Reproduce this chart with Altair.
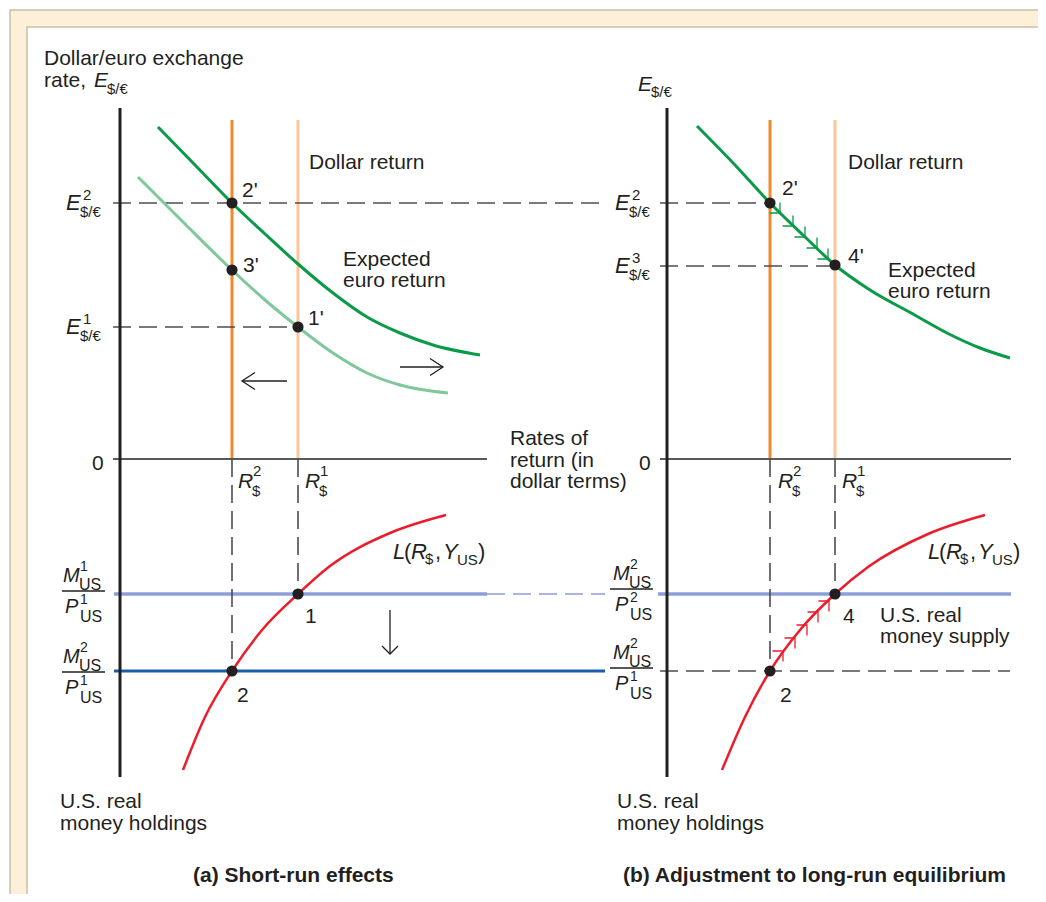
import altair as alt
import pandas as pd

FONT = "Liberation Sans"
INK = "#231f20"

# ---------------- diagram values (schematic units) ----------------
# vertical axes (panel a, panel b) and horizontal zero line
axis_x = [120, 667]
axis_top, axis_bottom = 108, 777
zero_y = 459
haxis_left = [113, 660]
haxis_right = [487, 1011]

# dollar interest rates R2 (new) and R1 (old) in each panel
rate_R2 = [232, 770]
rate_R1 = [298, 835]
rate_top = 120

# exchange-rate levels
E2_level, E1_level, E3_level = 203, 327, 266
# real money levels
M1P1_level, M2P1_level = 594, 671

# expected euro return curves
euro_new_a_x = [158, 195, 232, 265, 298, 333, 367, 400, 433, 480]
euro_new_a_y = [127, 165, 203, 234, 264, 293, 317, 333, 345, 355]
euro_old_a_x = [138, 185, 232, 265, 298, 333, 367, 400, 448]
euro_old_a_y = [177, 224, 270, 300, 327, 353, 373, 385, 393]
euro_b_x = [697, 735, 770, 803, 835, 870, 913, 947, 980, 1010]
euro_b_y = [126, 165, 203, 235, 265, 290, 314, 333, 348, 358]

# money demand curves L(R, Y)
demand_a_x = [183, 205, 232, 262, 298, 330, 390, 446]
demand_a_y = [770, 717, 671, 630, 594, 566, 533, 515]
demand_b_x = [722, 745, 770, 800, 835, 868, 928, 985]
demand_b_y = [770, 717, 671, 630, 594, 567, 534, 515]

# equilibrium points
dot_x = [232, 232, 298, 232, 298, 770, 835, 770, 835]
dot_y = [203, 270, 327, 671, 594, 203, 265, 671, 594]

# adjustment path markers
green_chev_x = [780, 793, 805, 817, 828]
green_chev_y = [213, 226, 237, 248, 259]
red_chev_x = [783, 795, 807, 818, 829]
red_chev_y = [651, 638, 625, 612, 601]

# ---------------- scales ----------------
W, H = 1030, 886
xs = alt.Scale(domain=[8, 1038], nice=False, zero=False)
ys = alt.Scale(domain=[8, 894], nice=False, zero=False, reverse=True)


def X(f="x"):
    return alt.X(f, type="quantitative", scale=xs, axis=None)


def Y(f="y"):
    return alt.Y(f, type="quantitative", scale=ys, axis=None)


def segs(rows, color, width, dash=None):
    df = pd.DataFrame(rows, columns=["x", "y", "x2", "y2"])
    kw = dict(color=color, strokeWidth=width)
    if dash:
        kw["strokeDash"] = dash
    return alt.Chart(df).mark_rule(**kw).encode(
        x=X("x"), y=Y("y"), x2=alt.X2("x2"), y2=alt.Y2("y2"))


def curve(xv, yv, color, width):
    df = pd.DataFrame({"x": xv, "y": yv})
    return alt.Chart(df).mark_line(color=color, strokeWidth=width,
                                   interpolate="monotone").encode(
        x=X("x"), y=Y("y"), order="x:Q")


layers = []

# frame
frame_outer = pd.DataFrame({"x": [10], "y": [10], "x2": [1046], "y2": [902]})
frame_inner = pd.DataFrame({"x": [27], "y": [27], "x2": [1046], "y2": [902]})
layers.append(alt.Chart(frame_outer).mark_rect(fill="#fdf0d8", stroke="#c9bea9", strokeWidth=1.5).encode(
    x=X("x"), y=Y("y"), x2=alt.X2("x2"), y2=alt.Y2("y2")))
layers.append(alt.Chart(frame_inner).mark_rect(fill="#ffffff", stroke="#c9bea9", strokeWidth=1.5).encode(
    x=X("x"), y=Y("y"), x2=alt.X2("x2"), y2=alt.Y2("y2")))

# dollar return lines
layers.append(segs([(r, rate_top, r, zero_y) for r in rate_R1], "#fbc79a", 3))
layers.append(segs([(r, rate_top, r, zero_y) for r in rate_R2], "#f28a2c", 3))

# horizontal zero axes
layers.append(segs([(haxis_left[i], zero_y, haxis_right[i], zero_y) for i in range(2)], "#58595b", 2))

# money supply lines
layers.append(segs([(114, M1P1_level, 487, M1P1_level), (658, M1P1_level, 1011, M1P1_level)], "#8c9fd8", 3.5))
layers.append(segs([(487, M1P1_level, 605, M1P1_level)], "#8c9fd8", 1.5, [18, 8]))
layers.append(segs([(114, M2P1_level, 605, M2P1_level)], "#1b5cab", 3))

# dashed guide lines
layers.append(segs([
    (113, E2_level, 605, E2_level),
    (113, E1_level, rate_R1[0], E1_level),
    (660, E2_level, rate_R2[1], E2_level),
    (660, E3_level, rate_R1[1], E3_level),
    (rate_R2[0], zero_y, rate_R2[0], M2P1_level),
    (rate_R1[0], zero_y, rate_R1[0], M1P1_level),
    (rate_R2[1], zero_y, rate_R2[1], M2P1_level),
    (rate_R1[1], zero_y, rate_R1[1], M1P1_level),
    (660, M2P1_level, 1010, M2P1_level),
], "#4d4d4f", 1.6, [18, 8]))

# curves
layers.append(curve(euro_old_a_x, euro_old_a_y, "#7fc89c", 3))
layers.append(curve(euro_new_a_x, euro_new_a_y, "#0a9a48", 3))
layers.append(curve(euro_b_x, euro_b_y, "#0a9a48", 3))
layers.append(curve(demand_a_x, demand_a_y, "#ec1c2a", 2.5))
layers.append(curve(demand_b_x, demand_b_y, "#ec1c2a", 2.5))

# vertical axes
layers.append(segs([(ax, axis_top, ax, axis_bottom) for ax in axis_x], INK, 3))

# fraction bars and arrow shafts
layers.append(segs([
    (62, 591, 105, 591), (62, 672, 105, 672),
    (610, 589, 653, 589), (610, 668, 653, 668),
], INK, 1.3))
layers.append(segs([(287, 381, 242, 381), (400, 367, 443, 367), (390, 610, 390, 654)], INK, 1.3))

# arrowheads
heads = pd.DataFrame({"x": [242, 443], "y": [381, 367], "angle": [180, 0]})
layers.append(alt.Chart(heads).mark_point(shape="M-1,-0.65L0,0L-1,0.65", filled=False, size=676,
                                          color=INK, strokeWidth=1.3, opacity=1).encode(
    x=X("x"), y=Y("y"), angle=alt.Angle("angle:Q", scale=None)))
down_head = pd.DataFrame({"x": [390], "y": [654]})
layers.append(alt.Chart(down_head).mark_point(shape="M-1,-1L0,0L1,-1", filled=False, size=256,
                                              color=INK, strokeWidth=1.3, opacity=1).encode(
    x=X("x"), y=Y("y")))

# adjustment chevrons
layers.append(alt.Chart(pd.DataFrame({"x": green_chev_x, "y": green_chev_y})).mark_point(
    shape="M-1,0L0,0L0,-1", filled=False, size=441, color="#0a9a48", strokeWidth=1.3, opacity=1).encode(
    x=X("x"), y=Y("y")))
layers.append(alt.Chart(pd.DataFrame({"x": red_chev_x, "y": red_chev_y})).mark_point(
    shape="M-1,0L0,0L0,1", filled=False, size=441, color="#ec1c2a", strokeWidth=1.3, opacity=1).encode(
    x=X("x"), y=Y("y")))

# dots
layers.append(alt.Chart(pd.DataFrame({"x": dot_x, "y": dot_y})).mark_circle(
    size=125, color=INK, opacity=1).encode(x=X("x"), y=Y("y")))

# ---------------- text ----------------
pieces = []  # text, x, y, size, style, weight


def add(t, x, y, size=21, style="normal", weight="normal"):
    pieces.append((t, x, y, size, style, weight))


def e_label(x, yl, sup):
    add("E", x, yl + 7, 22, "italic")
    add(sup, x + 17, yl - 3, 15)
    add("$/€", x + 14, yl + 14, 15)


def r_label(x, sup):
    add("R", x, 488, 21, "italic")
    add(sup, x + 15, 476, 15)
    add("$", x + 14, 496, 15)


def frac_label(x, yl, msup, psup):
    add("M", x, yl - 9, 20, "italic")
    add(msup, x + 17, yl - 20, 14)
    add("US", x + 16, yl - 1, 16)
    add("P", x + 2, yl + 22, 20, "italic")
    add(psup, x + 17, yl + 13, 14)
    add("US", x + 17, yl + 31, 16)


def l_label(x, y):
    add("L", x, y, 22, "italic")
    add("(", x + 11, y, 22)
    add("R", x + 18, y, 22, "italic")
    add("$", x + 32, y + 5, 15)
    add(",", x + 42, y, 22)
    add("Y", x + 50, y, 22, "italic")
    add("US", x + 64, y + 6, 15)
    add(")", x + 85, y, 22)


# axis titles
add("Dollar/euro exchange", 44, 65)
add("rate,", 44, 87)
add("E", 94, 87, 21, "italic")
add("$/€", 107, 94, 15)
add("E", 638, 91, 21, "italic")
add("$/€", 651, 97, 15)

e_label(66, E2_level, "2")
e_label(66, E1_level, "1")
e_label(615, E2_level, "2")
e_label(615, E3_level, "3")

r_label(238, "2")
r_label(305, "1")
r_label(778, "2")
r_label(842, "1")

frac_label(63, 591, "1", "1")
frac_label(63, 672, "2", "1")
frac_label(613, 589, "2", "2")
frac_label(613, 668, "2", "1")

l_label(393, 559)
l_label(928, 559)

add("Dollar return", 309, 169)
add("Dollar return", 848, 169)
add("Expected", 343, 266)
add("euro return", 343, 287)
add("Expected", 888, 277)
add("euro return", 888, 298)
add("Rates of", 510, 445)
add("return (in", 510, 467)
add("dollar terms)", 510, 488)
add("0", 92, 470)
add("0", 639, 470)
add("2'", 242, 197)
add("3'", 243, 272)
add("1'", 308, 325)
add("2'", 782, 195)
add("4'", 848, 263)
add("1", 305, 623)
add("2", 237, 702)
add("4", 843, 623)
add("2", 780, 702)
add("U.S. real", 60, 808)
add("money holdings", 60, 830)
add("U.S. real", 617, 808)
add("money holdings", 617, 830)
add("U.S. real", 880, 622)
add("money supply", 880, 643)
add("(a) Short-run effects", 193, 882, 21, "normal", "bold")
add("(b) Adjustment to long-run equilibrium", 623, 882, 21, "normal", "bold")

tdf = pd.DataFrame(pieces, columns=["text", "x", "y", "size", "style", "weight"])
for (style, weight), g in tdf.groupby(["style", "weight"]):
    layers.append(alt.Chart(g.reset_index(drop=True)).mark_text(
        font=FONT, fontStyle=style, fontWeight=weight, align="left",
        baseline="alphabetic", color=INK).encode(
        x=X("x"), y=Y("y"), text="text:N", size=alt.Size("size:Q", scale=None)))

chart = alt.layer(*layers).properties(
    width=W, height=H, padding=0,
    autosize=alt.AutoSizeParams(type="none"),
).configure_view(stroke=None)

chart.save("out.html", embed_options={"renderer": "svg", "actions": False})
